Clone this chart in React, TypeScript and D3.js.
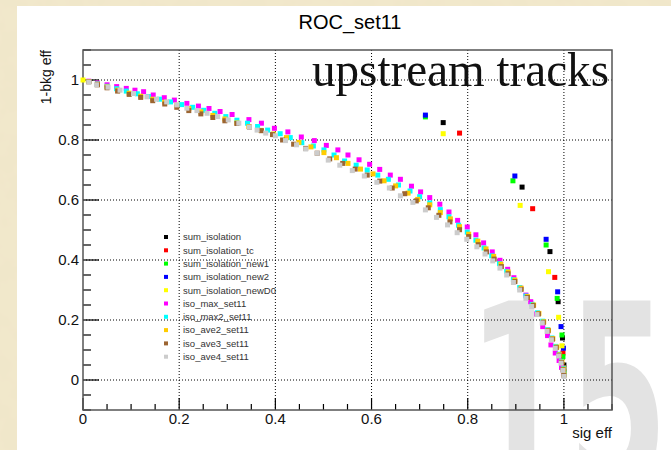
import React from "react";
import * as d3 from "d3";

// ROC curves: background rejection (1 - bkg eff) versus signal efficiency.
const seriesNames = [
  "sum_isolation",
  "sum_isolation_tc",
  "sum_isolation_new1",
  "sum_isolation_new2",
  "sum_isolation_newD0",
  "iso_max_set11",
  "iso_max2_set11",
  "iso_ave2_set11",
  "iso_ave3_set11",
  "iso_ave4_set11",
];

const seriesColors = [
  "#000000",
  "#ff0000",
  "#00ff00",
  "#0000ff",
  "#ffff00",
  "#ff00ff",
  "#00ffff",
  "#ffcc00",
  "#9c6532",
  "#cccccc",
];

const sumIsolation: [number, number][] = [
  [0.749, 0.858], [0.913, 0.643], [0.971, 0.428], [0.988, 0.261], [0.997, 0.14], [1.0, 0.05],
];
const sumIsolationTc: [number, number][] = [
  [0.783, 0.823], [0.935, 0.571], [0.981, 0.342], [0.998, 0.09], [1.0, 0.03],
];
const sumIsolationNew1: [number, number][] = [
  [0.712, 0.877], [0.894, 0.664], [0.963, 0.45], [0.986, 0.272], [0.996, 0.15], [0.998, 0.078], [1.0, 0.03],
];
const sumIsolationNew2: [number, number][] = [
  [0.712, 0.883], [0.898, 0.68], [0.963, 0.469], [0.987, 0.294], [0.994, 0.178], [0.999, 0.106], [1.0, 0.04],
];
const sumIsolationNewD0: [number, number][] = [
  [0.0, 1.0], [0.749, 0.821], [0.909, 0.582], [0.968, 0.361], [0.989, 0.209], [0.996, 0.114], [1.0, 0.04],
];

const isoMax: [number, number][] = [
  [0.012, 0.996], [0.03, 0.99], [0.05, 0.984], [0.07, 0.978], [0.09, 0.972], [0.108, 0.966],
  [0.126, 0.961], [0.146, 0.95], [0.169, 0.941], [0.19, 0.933], [0.216, 0.922], [0.24, 0.913],
  [0.262, 0.905], [0.285, 0.895], [0.31, 0.885], [0.345, 0.868], [0.371, 0.856], [0.398, 0.839],
  [0.426, 0.827], [0.454, 0.81], [0.481, 0.798], [0.506, 0.782], [0.53, 0.767], [0.551, 0.75],
  [0.574, 0.734], [0.596, 0.719], [0.617, 0.702], [0.639, 0.683], [0.66, 0.669], [0.683, 0.646],
  [0.702, 0.627], [0.721, 0.608], [0.742, 0.586], [0.761, 0.56], [0.779, 0.532], [0.799, 0.51],
  [0.817, 0.484], [0.833, 0.457], [0.851, 0.427], [0.867, 0.399], [0.883, 0.369], [0.896, 0.341],
  [0.91, 0.306], [0.921, 0.283], [0.931, 0.261], [0.943, 0.22], [0.956, 0.178], [0.966, 0.148],
  [0.973, 0.117], [0.982, 0.09], [0.99, 0.065], [0.995, 0.042], [0.999, 0.022],
];
const isoMax2: [number, number][] = [
  [0.012, 0.995], [0.03, 0.987], [0.05, 0.979], [0.07, 0.971], [0.09, 0.963], [0.113, 0.954],
  [0.136, 0.945], [0.159, 0.936], [0.182, 0.927], [0.205, 0.918], [0.228, 0.909], [0.251, 0.899],
  [0.274, 0.889], [0.297, 0.878], [0.32, 0.866], [0.342, 0.856], [0.363, 0.845], [0.384, 0.833],
  [0.41, 0.821], [0.431, 0.808], [0.455, 0.791], [0.479, 0.78], [0.501, 0.767], [0.522, 0.75],
  [0.544, 0.73], [0.568, 0.716], [0.591, 0.7], [0.613, 0.683], [0.635, 0.669], [0.656, 0.65],
  [0.68, 0.63], [0.7, 0.611], [0.721, 0.59], [0.743, 0.568], [0.761, 0.544], [0.781, 0.516],
  [0.799, 0.493], [0.817, 0.466], [0.834, 0.44], [0.85, 0.414], [0.866, 0.388], [0.881, 0.362],
  [0.895, 0.335], [0.908, 0.308], [0.921, 0.28], [0.934, 0.252], [0.945, 0.224], [0.956, 0.196],
  [0.966, 0.168], [0.975, 0.14], [0.983, 0.112], [0.99, 0.086], [0.995, 0.062], [0.999, 0.038],
  [1.0, 0.02],
];
const isoAve2: [number, number][] = [
  [0.012, 0.995], [0.03, 0.986], [0.05, 0.977], [0.072, 0.966], [0.096, 0.956], [0.12, 0.946],
  [0.145, 0.936], [0.17, 0.926], [0.195, 0.916], [0.22, 0.905], [0.245, 0.894], [0.27, 0.882],
  [0.295, 0.87], [0.32, 0.857], [0.345, 0.845], [0.37, 0.832], [0.396, 0.82], [0.423, 0.808],
  [0.449, 0.792], [0.474, 0.777], [0.501, 0.758], [0.527, 0.741], [0.551, 0.722], [0.577, 0.703],
  [0.603, 0.687], [0.626, 0.664], [0.65, 0.647], [0.676, 0.623], [0.696, 0.602], [0.721, 0.584],
  [0.743, 0.558], [0.764, 0.537], [0.783, 0.511], [0.802, 0.486], [0.821, 0.463], [0.838, 0.437],
  [0.854, 0.412], [0.869, 0.386], [0.884, 0.36], [0.898, 0.333], [0.911, 0.306], [0.924, 0.278],
  [0.937, 0.25], [0.948, 0.222], [0.958, 0.194], [0.968, 0.166], [0.977, 0.138], [0.985, 0.11],
  [0.991, 0.084], [0.996, 0.06], [0.999, 0.036], [1.0, 0.018],
];
const isoAve3: [number, number][] = [
  [0.012, 0.994], [0.03, 0.984], [0.05, 0.974], [0.072, 0.963], [0.096, 0.952], [0.12, 0.942],
  [0.145, 0.931], [0.17, 0.92], [0.195, 0.909], [0.22, 0.898], [0.245, 0.887], [0.27, 0.875],
  [0.295, 0.864], [0.32, 0.855], [0.346, 0.843], [0.371, 0.831], [0.394, 0.818], [0.415, 0.8],
  [0.438, 0.786], [0.463, 0.772], [0.487, 0.756], [0.513, 0.737], [0.54, 0.722], [0.566, 0.703],
  [0.591, 0.683], [0.617, 0.663], [0.643, 0.64], [0.669, 0.621], [0.693, 0.597], [0.718, 0.574],
  [0.74, 0.549], [0.763, 0.527], [0.783, 0.501], [0.802, 0.478], [0.822, 0.451], [0.839, 0.427],
  [0.855, 0.403], [0.87, 0.378], [0.884, 0.354], [0.898, 0.328], [0.911, 0.302], [0.924, 0.275],
  [0.936, 0.248], [0.947, 0.22], [0.957, 0.192], [0.967, 0.164], [0.976, 0.136], [0.984, 0.108],
  [0.99, 0.082], [0.995, 0.058], [0.998, 0.034], [1.0, 0.015],
];
const isoAve4: [number, number][] = [
  [0.012, 0.993], [0.028, 0.984], [0.052, 0.976], [0.077, 0.966], [0.105, 0.955], [0.133, 0.944],
  [0.153, 0.936], [0.174, 0.927], [0.195, 0.917], [0.216, 0.906], [0.237, 0.898], [0.258, 0.889],
  [0.28, 0.878], [0.302, 0.867], [0.324, 0.856], [0.346, 0.843], [0.362, 0.833], [0.38, 0.823],
  [0.4, 0.814], [0.421, 0.798], [0.444, 0.784], [0.463, 0.77], [0.487, 0.756], [0.51, 0.733],
  [0.534, 0.716], [0.56, 0.698], [0.585, 0.68], [0.611, 0.659], [0.637, 0.64], [0.66, 0.614],
  [0.686, 0.592], [0.712, 0.567], [0.735, 0.542], [0.758, 0.517], [0.778, 0.491], [0.798, 0.469],
  [0.819, 0.444], [0.836, 0.42], [0.852, 0.397], [0.867, 0.373], [0.881, 0.35], [0.895, 0.325],
  [0.908, 0.3], [0.921, 0.272], [0.933, 0.245], [0.944, 0.218], [0.955, 0.19], [0.965, 0.162],
  [0.974, 0.134], [0.982, 0.106], [0.989, 0.08], [0.994, 0.056], [0.998, 0.032], [1.0, 0.012],
];

const seriesPoints = [
  sumIsolation,
  sumIsolationTc,
  sumIsolationNew1,
  sumIsolationNew2,
  sumIsolationNewD0,
  isoMax,
  isoMax2,
  isoAve2,
  isoAve3,
  isoAve4,
];

const xMajorTicks = [0, 0.2, 0.4, 0.6, 0.8, 1];
const yMajorTicks = [0, 0.2, 0.4, 0.6, 0.8, 1];
const xTickLabels = ["0", "0.2", "0.4", "0.6", "0.8", "1"];
const yTickLabels = ["0", "0.2", "0.4", "0.6", "0.8", "1"];

const W = 671;
const H = 450;
const frame = { left: 83, right: 612, top: 50, bottom: 410 };

export default function App() {
  const x = d3.scaleLinear().domain([0, 1.1]).range([frame.left, frame.right]);
  const y = d3.scaleLinear().domain([-0.1, 1.1]).range([frame.bottom, frame.top]);

  const xMinor = d3.range(0, 1.1 + 1e-9, 0.05).filter((v) => !xMajorTicks.some((m) => Math.abs(m - v) < 1e-6));
  const yMinor = d3.range(-0.1, 1.1 + 1e-9, 0.05).filter((v) => !yMajorTicks.some((m) => Math.abs(m - v) < 1e-6));

  const font = "'Liberation Sans', Arial, Helvetica, sans-serif";
  const ms = 5;
  const legendTop = 237;
  const legendStep = 13.3;

  return (
    <svg
      width={W}
      height={H}
      viewBox={`0 0 ${W} ${H}`}
      style={{ position: "absolute", left: 0, top: 0, display: "block" }}
    >
      <defs>
        <filter id="paper" x="0" y="0" width="100%" height="100%">
          <feTurbulence type="fractalNoise" baseFrequency="0.045" numOctaves="3" seed="7" />
          <feColorMatrix
            type="matrix"
            values="0 0 0 0 0.86  0 0 0 0 0.78  0 0 0 0 0.58  0.9 0 0 0 -0.3"
          />
        </filter>
      </defs>

      {/* slide background */}
      <rect x={0} y={0} width={W} height={H} fill="#f1e8cb" />
      <rect x={0} y={0} width={W} height={H} filter="url(#paper)" />

      {/* canvas */}
      <rect x={17} y={6} width={W - 17} height={H - 6} fill="#ffffff" />

      {/* page number */}
      <text
        x={468}
        y={490}
        fontFamily="'DejaVu Sans', sans-serif"
        fontWeight="bold"
        fontSize={260}
        fill="#e3e3e3"
        textLength={200}
        lengthAdjust="spacingAndGlyphs"
      >
        15
      </text>

      {/* title */}
      <text x={350} y={29} textAnchor="middle" fontFamily={font} fontSize={20} fill="#000">
        ROC_set11
      </text>

      {/* grid */}
      <g stroke="#000" strokeWidth={1} strokeDasharray="1,2">
        {xMajorTicks
          .filter((v) => v > 0)
          .map((v) => (
            <line key={`gx${v}`} x1={x(v)} x2={x(v)} y1={frame.top} y2={frame.bottom} />
          ))}
        {yMajorTicks.map((v) => (
          <line key={`gy${v}`} x1={frame.left} x2={frame.right} y1={y(v)} y2={y(v)} />
        ))}
      </g>

      {/* ticks */}
      <g stroke="#000" strokeWidth={1.2}>
        {xMajorTicks.map((v) => (
          <line key={`tx${v}`} x1={x(v)} x2={x(v)} y1={frame.bottom} y2={frame.bottom - 12} />
        ))}
        {xMinor.map((v) => (
          <line key={`mx${v}`} x1={x(v)} x2={x(v)} y1={frame.bottom} y2={frame.bottom - 6} />
        ))}
        {yMajorTicks.map((v) => (
          <line key={`ty${v}`} x1={frame.left} x2={frame.left + 16} y1={y(v)} y2={y(v)} />
        ))}
        {yMinor.map((v) => (
          <line key={`my${v}`} x1={frame.left} x2={frame.left + 8} y1={y(v)} y2={y(v)} />
        ))}
      </g>

      {/* frame */}
      <rect
        x={frame.left}
        y={frame.top}
        width={frame.right - frame.left}
        height={frame.bottom - frame.top}
        fill="none"
        stroke="#555"
        strokeWidth={1.5}
      />

      {/* tick labels */}
      <g fontFamily={font} fontSize={15} fill="#111">
        {xMajorTicks.map((v, i) => (
          <text key={`lx${v}`} x={x(v)} y={424} textAnchor="middle">
            {xTickLabels[i]}
          </text>
        ))}
        {yMajorTicks.map((v, i) => (
          <text key={`ly${v}`} x={79} y={y(v)} dy="0.36em" textAnchor="end">
            {yTickLabels[i]}
          </text>
        ))}
      </g>

      {/* axis titles */}
      <text x={frame.right} y={438} textAnchor="end" fontFamily={font} fontSize={15} fill="#111">
        sig eff
      </text>
      <text
        transform={`translate(51, ${frame.top}) rotate(-90)`}
        textAnchor="end"
        fontFamily={font}
        fontSize={14}
        fill="#111"
      >
        1-bkg eff
      </text>

      {/* annotation */}
      <text
        x={312}
        y={86}
        fontFamily="'Liberation Serif', 'DejaVu Serif', serif"
        fontSize={49}
        fill="#111"
        textLength={297}
        lengthAdjust="spacingAndGlyphs"
      >
        upstream tracks
      </text>

      {/* data markers */}
      {seriesPoints.map((pts, si) => (
        <g key={seriesNames[si]} fill={seriesColors[si]}>
          {pts.map(([px, py], j) => (
            <rect key={j} x={x(px) - ms / 2} y={y(py) - ms / 2} width={ms} height={ms} />
          ))}
        </g>
      ))}

      {/* legend */}
      <g fontFamily={font} fontSize={9.5} fill="#333">
        {seriesNames.map((name, i) => (
          <g key={`lg${name}`} transform={`translate(0, ${legendTop + i * legendStep})`}>
            <rect x={164} y={-2} width={4} height={4} fill={seriesColors[i]} />
            <text x={183} y={0} dy="0.35em">
              {name}
            </text>
          </g>
        ))}
      </g>
    </svg>
  );
}
